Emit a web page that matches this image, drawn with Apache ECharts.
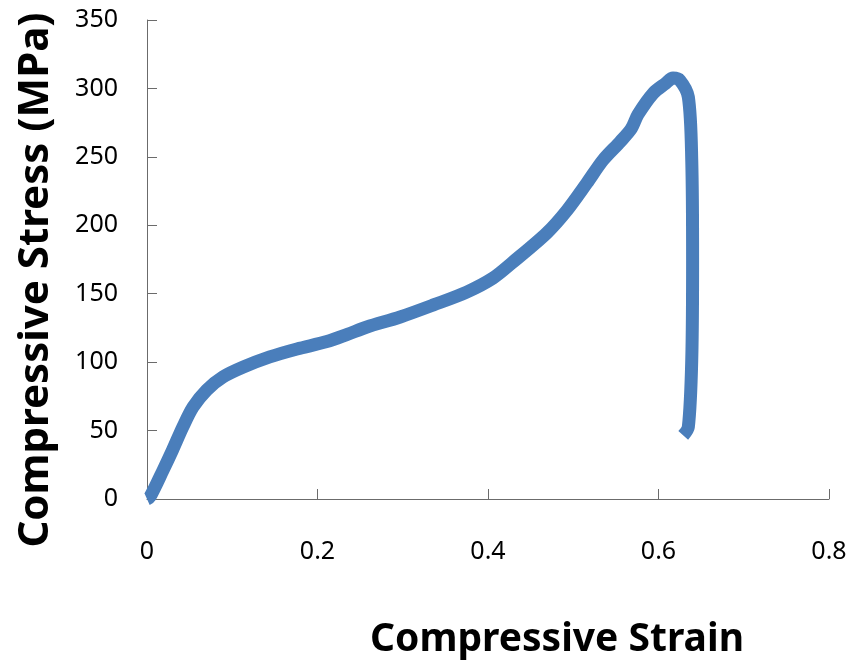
<!DOCTYPE html>
<html>
<head>
<meta charset="utf-8">
<script src="https://cdn.jsdelivr.net/npm/echarts@6/dist/echarts.min.js"></script>
<style>
html,body{margin:0;padding:0;background:#fff;}
#chart{width:851px;height:661px;}
</style>
</head>
<body>
<div id="chart"></div>
<script>
// Data
const strain = [0.000, 0.0035, 0.019, 0.030, 0.042, 0.054, 0.070, 0.089, 0.113, 0.144, 0.176, 0.211, 0.235, 0.258, 0.297, 0.336, 0.375, 0.406, 0.429, 0.469, 0.493, 0.516, 0.535, 0.555, 0.568, 0.576, 0.594, 0.608, 0.617, 0.625, 0.635, 0.639, 0.640, 0.639, 0.635, 0.629];
const stress = [0.0, 1.5, 21.2, 35.8, 52.6, 67.2, 79.6, 89.1, 96.4, 103.8, 109.6, 115.0, 120.3, 125.7, 133.0, 141.8, 151.2, 161.5, 173.0, 194.4, 211.2, 230.9, 247.7, 261.0, 270.5, 281.0, 296.6, 303.5, 307.6, 306.0, 293.7, 247.7, 174.6, 101.6, 52.6, 46.5];
const xTicks = [0, 0.8, 0.2];   // min, max, interval
const yTicks = [0, 350, 50];    // min, max, interval
const xTitle = 'Compressive Strain';
const yTitle = 'Compressive Stress (MPa)';

const points = strain.map((v, i) => [v, stress[i]]);
const axisColor = '#6b6b6b';
const fontFam = '"Noto Sans", "Open Sans", sans-serif';

const chart = echarts.init(document.getElementById('chart'));
chart.setOption({
  animation: false,
  backgroundColor: '#ffffff',
  grid: { left: 147, right: 22, top: 20, bottom: 162, containLabel: false },
  xAxis: {
    type: 'value', min: xTicks[0], max: xTicks[1], interval: xTicks[2],
    axisLine: { show: true, onZero: false, lineStyle: { color: axisColor, width: 1 } },
    axisTick: { show: true, inside: true, length: 10, lineStyle: { color: axisColor } },
    splitLine: { show: false },
    axisLabel: { color: '#000', fontSize: 25, fontFamily: fontFam, margin: 40 }
  },
  yAxis: {
    type: 'value', min: yTicks[0], max: yTicks[1], interval: yTicks[2],
    axisLine: { show: true, onZero: false, lineStyle: { color: axisColor, width: 1 } },
    axisTick: { show: true, inside: true, length: 10, lineStyle: { color: axisColor } },
    splitLine: { show: false },
    axisLabel: { color: '#000', fontSize: 25, fontFamily: fontFam, margin: 29 }
  },
  graphic: [
    { type: 'text', x: 557, y: 640, style: {
        text: xTitle, x: 0, y: 0, textAlign: 'center', textVerticalAlign: 'middle',
        fontSize: 39, fontWeight: 'bold', fontFamily: fontFam, fill: '#000' } },
    { type: 'text', x: 36, y: 280, rotation: Math.PI / 2, style: {
        text: yTitle, x: 0, y: 0, textAlign: 'center', textVerticalAlign: 'middle',
        fontSize: 42, fontWeight: 'bold', fontFamily: fontFam, fill: '#000' } }
  ],
  series: [{
    type: 'line',
    data: points,
    smooth: 0.3,
    showSymbol: false,
    lineStyle: { color: '#4a7ebb', width: 13, cap: 'butt', join: 'round' },
    itemStyle: { color: '#4a7ebb' }
  }]
});
</script>
</body>
</html>
